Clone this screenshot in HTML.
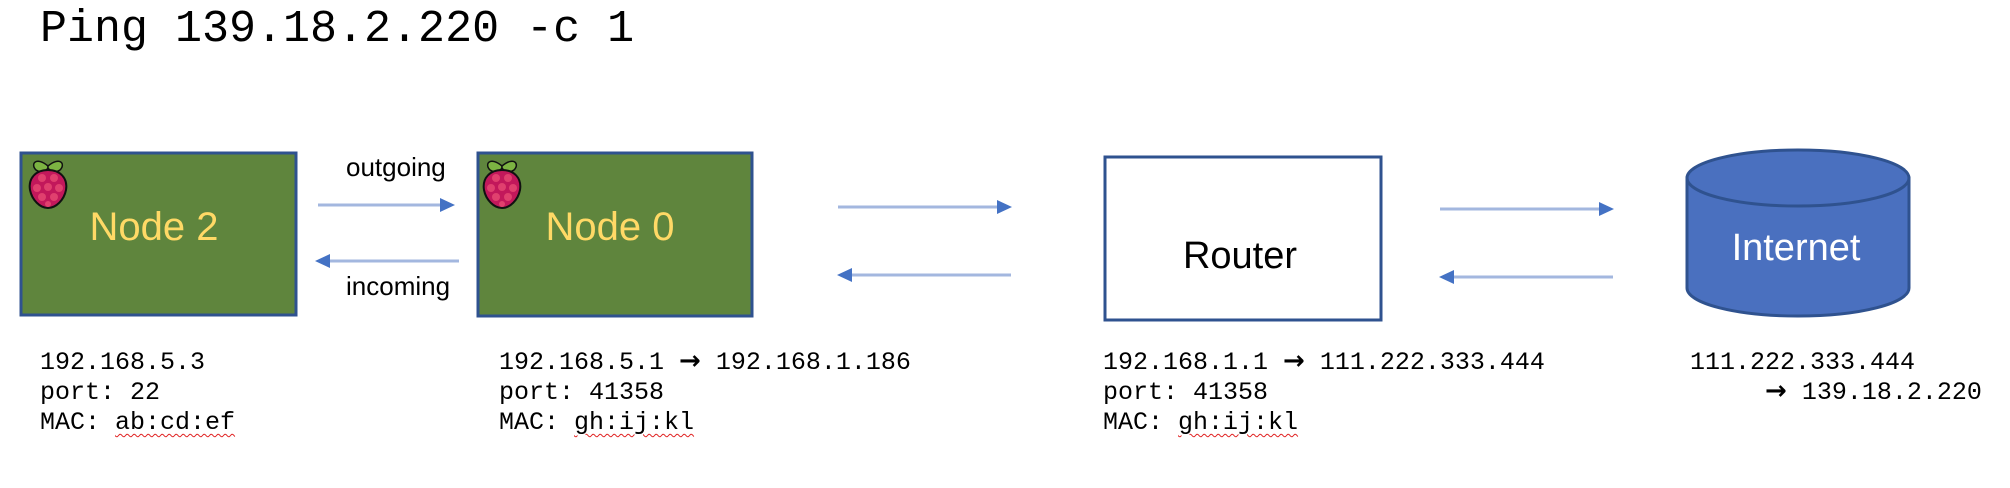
<!DOCTYPE html>
<html><head><meta charset="utf-8"><style>
body{margin:0;width:2010px;height:488px;background:#fff;position:relative;overflow:hidden}
.a{position:absolute;white-space:pre}
.m{font-family:"Liberation Mono",monospace;font-size:25px;color:#000}
.s{font-family:"Liberation Sans",sans-serif}
.ar{font-family:"DejaVu Sans",sans-serif;font-weight:bold;font-size:26px;line-height:20px}
.sq{text-decoration:underline wavy #e02020;text-decoration-thickness:1px;text-underline-offset:4px}
</style></head><body>
<div class="a" style="left:40px;top:4px;font-family:'Liberation Mono',monospace;font-size:45px;">Ping 139.18.2.220 -c 1</div>
<svg class="a" style="left:0;top:0" width="2010" height="488">
<defs>
<g id="rb">
<path d="M20 10 C8 0 2 8 8 14 C12 17 18 15 20 12 Z" fill="#7cb342" stroke="#111" stroke-width="1.5"/>
<path d="M20 10 C32 0 38 8 32 14 C28 17 22 15 20 12 Z" fill="#7cb342" stroke="#111" stroke-width="1.5"/>
<path d="M20 14 C32 14 40 22 38 34 C36 44 28 52 20 52 C12 52 4 44 2 34 C0 22 8 14 20 14 Z" fill="#c2185b" stroke="#111" stroke-width="2"/>
<g fill="#e0406e"><circle cx="14" cy="22" r="4"/><circle cx="26" cy="22" r="4"/><circle cx="9" cy="32" r="4"/><circle cx="20" cy="31" r="4"/><circle cx="31" cy="32" r="4"/><circle cx="14" cy="41" r="4"/><circle cx="26" cy="41" r="4"/><circle cx="20" cy="48" r="3"/></g>
</g>
</defs>
<rect x="21" y="153" width="275" height="162" fill="#5f853d" stroke="#2f528f" stroke-width="3"/>
<rect x="478" y="153" width="274" height="163" fill="#5f853d" stroke="#2f528f" stroke-width="3"/>
<use href="#rb" x="28" y="156"/>
<use href="#rb" x="482" y="156"/>
<text x="154" y="240" text-anchor="middle" font-family="Liberation Sans" font-size="40" fill="#ffd966">Node 2</text>
<text x="610" y="240" text-anchor="middle" font-family="Liberation Sans" font-size="40" fill="#ffd966">Node 0</text>
<rect x="1105" y="157" width="276" height="163" fill="#fff" stroke="#2f528f" stroke-width="3"/>
<text x="1240" y="268" text-anchor="middle" font-family="Liberation Sans" font-size="38" fill="#000">Router</text>
<path d="M1687 178 L1687 288 A111 28 0 0 0 1909 288 L1909 178 Z" fill="#4a70bf" stroke="#2f528f" stroke-width="3"/>
<ellipse cx="1798" cy="178" rx="111" ry="28" fill="#4a70bf" stroke="#2f528f" stroke-width="3"/>
<text x="1796" y="260" text-anchor="middle" font-family="Liberation Sans" font-size="38" fill="#fff">Internet</text>
<g stroke="#a3b7df" stroke-width="3">
<line x1="318" y1="205" x2="442" y2="205"/><line x1="330" y1="261" x2="459" y2="261"/>
<line x1="838" y1="207" x2="998" y2="207"/><line x1="851" y1="275" x2="1011" y2="275"/>
<line x1="1440" y1="209" x2="1600" y2="209"/><line x1="1453" y1="277" x2="1613" y2="277"/>
</g>
<g fill="#4472c4">
<path d="M440 198 L455 205 L440 212Z"/><path d="M330 254 L315 261 L330 268Z"/>
<path d="M997 200 L1012 207 L997 214Z"/><path d="M852 268 L837 275 L852 282Z"/>
<path d="M1599 202 L1614 209 L1599 216Z"/><path d="M1454 270 L1439 277 L1454 284Z"/>
</g>
</svg>
<div class="a s" style="left:346px;top:152px;font-size:26px">outgoing</div>
<div class="a s" style="left:346px;top:271px;font-size:26px">incoming</div>

<div class="a m" style="left:40px;top:348px;line-height:30px">192.168.5.3
port: 22
MAC: <span class="sq">ab:cd:ef</span></div>

<div class="a m" style="left:499px;top:348px;line-height:30px">192.168.5.1 <span class="ar">→</span> 192.168.1.186
port: 41358
MAC: <span class="sq">gh:ij:kl</span></div>

<div class="a m" style="left:1103px;top:348px;line-height:30px">192.168.1.1 <span class="ar">→</span> 111.222.333.444
port: 41358
MAC: <span class="sq">gh:ij:kl</span></div>

<div class="a m" style="left:1690px;top:348px;line-height:30px">111.222.333.444
     <span class="ar">→</span> 139.18.2.220</div>
</body></html>
